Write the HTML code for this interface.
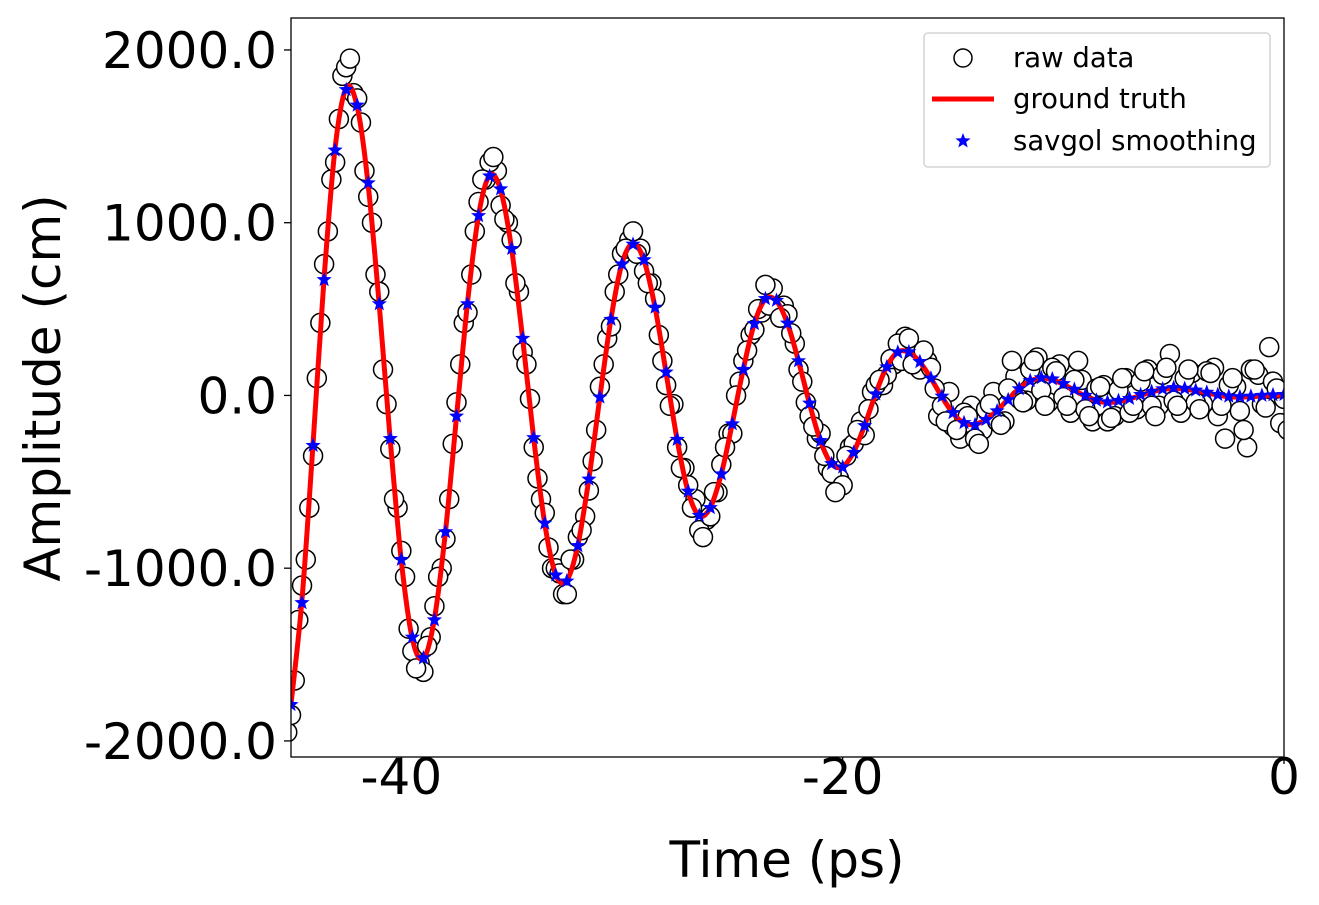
<!DOCTYPE html>
<html><head><meta charset="utf-8"><style>
html,body{margin:0;padding:0;background:#fff;}
svg{display:block;font-family:"DejaVu Sans","Liberation Sans",sans-serif;}
</style></head><body>
<svg id="chart" width="1319" height="905" viewBox="0 0 1319 905">
<defs><clipPath id="clip"><rect x="291" y="18" width="993" height="739"/></clipPath></defs>
<g id="marks" clip-path="url(#clip)"></g>
<rect x="291" y="18" width="993" height="739" fill="none" stroke="#000" stroke-width="1.3"/>
<g id="axes"></g>
<text x="787" y="877" style="font-size:50px" text-anchor="middle">Time (ps)</text>
<text x="0" y="0" style="font-size:50px" text-anchor="middle" transform="translate(60,388) rotate(-90)">Amplitude (cm)</text>
<g>
<rect x="924" y="33" width="346" height="134" rx="4" fill="#fff" fill-opacity="0.8" stroke="#ccc" stroke-width="1.3"/>
<circle cx="963" cy="58" r="9" fill="#fff" stroke="#000" stroke-width="1.5"/>
<text x="1013" y="67" style="font-size:27.5px">raw data</text>
<line x1="932" y1="99" x2="994" y2="99" stroke="red" stroke-width="5"/>
<text x="1013" y="108" style="font-size:27.5px">ground truth</text>
<polygon id="legstar" fill="blue"/>
<text x="1013" y="150" style="font-size:27.5px">savgol smoothing</text>
</g>
</svg>
<script>
const t0 = -45, dt = 0.5;
const truth = [-1787,-1180,-276,681,1433,1780,1671,1217,520,-262,-957,-1410,-1523,-1293,-787,-125,537,1043,1273,1190,846,326,-249,-743,-1039,-1071,-866,-482,-8,443,764,880,780,508,130,-258,-559,-696,-649,-454,-161,155,417,557,547,416,199,-49,-266,-397,-412,-327,-171,11,167,252,250,193,99,-9,-103,-160,-167,-139,-87,-22,40,84,100,91,65,30,-5,-31,-40,-35,-20,0,20,35,40,37,27,15,2,-7,-10,-8,-3,0,2];
const savgol = [-1790,-1200,-290,670,1420,1770,1680,1230,530,-250,-950,-1400,-1520,-1300,-790,-120,530,1040,1270,1195,850,330,-245,-740,-1040,-1075,-870,-485,-10,440,760,875,785,510,135,-255,-555,-695,-650,-455,-165,150,415,560,550,418,200,-45,-262,-395,-415,-330,-175,8,165,250,252,195,100,-5,-100,-158,-170,-140,-90,-25,38,85,102,95,68,35,0,-28,-38,-30,-18,5,22,38,45,40,30,18,5,-5,-8,-5,0,3,5];
const rawMid = [-1850,-1100,-350,760,1350,1900,1720,1150,600,-310,-900,-1480,-1600,-1220,-830,-40,480,1120,1350,1100,900,250,-300,-680,-1000,-1150,-820,-550,50,400,820,950,720,560,60,-300,-520,-780,-700,-400,-220,200,380,640,500,470,150,-120,-220,-450,-520,-280,-230,60,120,300,330,150,160,-60,-180,-100,-250,-80,-150,40,-20,150,30,160,-10,90,-80,40,-150,30,-100,80,-60,120,-30,100,-40,140,-120,60,-90,150,-50,80,-20];
const rawEarly = [-1950,-1300,-650,420,1250,1850,1750,1300,700,-50,-650,-1350,-1550,-1400,-1000,-280,420,950,1250,1300,1000,600,-20,-600,-1000,-1150,-950,-700,-200,330,700,900,850,650,200,-50,-420,-600,-720,-560,-220,80,350,480,620,520,300,-40,-250,-420,-480,-300,-150,20,60,180,340,180,200,-120,20,-250,-60,-200,20,-150,110,-30,220,-40,180,-100,90,-150,60,-120,100,-80,150,-60,240,-100,130,-50,160,-250,50,-300,120,280,-160];
const rawLate = [-1650,-950,100,950,1600,1950,1580,1000,150,-600,-1050,-1580,-1450,-1050,-600,180,700,1250,1380,1020,650,180,-480,-880,-1030,-950,-780,-380,180,600,850,820,650,350,-60,-420,-650,-820,-560,-300,0,260,500,520,450,360,80,-180,-350,-560,-350,-200,-80,90,210,200,180,260,40,-150,-200,-120,-280,-50,-170,200,-40,200,-60,140,-60,200,-120,50,-130,100,-60,140,-120,160,-60,150,-80,130,-60,100,-200,150,-70,40,-200];
const xTicks = [-40, -20, 0];
const yTicks = [-2000, -1000, 0, 1000, 2000];

const X0=291, X1=1284, Y_TOP=18, Y_BOT=757;
const xMin=-45, xMax=0, yMin=-2093, yMax=2185;
function sx(t){return X0+(t-xMin)/(xMax-xMin)*(X1-X0);}
function sy(v){return Y_BOT-(v-yMin)/(yMax-yMin)*(Y_BOT-Y_TOP);}
const NS="http://www.w3.org/2000/svg";
const marks=document.getElementById('marks');
const axes=document.getElementById('axes');
function mk(tag,attrs,parent){const e=document.createElementNS(NS,tag);for(const k in attrs)e.setAttribute(k,attrs[k]);parent.appendChild(e);return e;}
function starPts(cx,cy,R){const r=R*0.42;let p=[];for(let i=0;i<10;i++){const a=-Math.PI/2+i*Math.PI/5;const rr=i%2?r:R;p.push((cx+rr*Math.cos(a)).toFixed(1)+','+(cy+rr*Math.sin(a)).toFixed(1));}return p.join(' ');}

const rawSets=[[rawEarly,-0.17],[rawMid,0],[rawLate,0.17]];
rawSets.forEach(([arr,off])=>{
  arr.forEach((v,i)=>{
    const c=mk('circle',{cx:sx(t0+dt*i+off),cy:sy(v),r:9.5,fill:'#fff',stroke:'#000','stroke-width':1.5},marks);
    
    
  });
});
const pts=truth.map((v,i)=>[sx(t0+dt*i),sy(v)]);
let d='M'+pts[0][0]+','+pts[0][1];
for(let i=0;i<pts.length-1;i++){
  const p0=pts[Math.max(0,i-1)],p1=pts[i],p2=pts[i+1],p3=pts[Math.min(pts.length-1,i+2)];
  const c1=[p1[0]+(p2[0]-p0[0])/6,p1[1]+(p2[1]-p0[1])/6];
  const c2=[p2[0]-(p3[0]-p1[0])/6,p2[1]-(p3[1]-p1[1])/6];
  d+=' C'+c1[0].toFixed(1)+','+c1[1].toFixed(1)+' '+c2[0].toFixed(1)+','+c2[1].toFixed(1)+' '+p2[0].toFixed(1)+','+p2[1].toFixed(1);
}
const line=mk('path',{d:d,fill:'none',stroke:'red','stroke-width':5,'stroke-linejoin':'round'},marks);


savgol.forEach((v,i)=>{
  const s=mk('polygon',{points:starPts(sx(t0+dt*i),sy(v),8),fill:'blue'},marks);
  
  
});
document.getElementById('legstar').setAttribute('points',starPts(963,141,8));
xTicks.forEach(t=>{
  const x=sx(t);
  const l=mk('line',{x1:x,y1:Y_BOT,x2:x,y2:Y_BOT+7,stroke:'#000','stroke-width':1.3},axes);
  
  
  const tx=mk('text',{x:x,y:Y_BOT+37,style:'font-size:50px','text-anchor':'middle'},axes);
  tx.textContent=String(t);
  
  
});
yTicks.forEach(v=>{
  const y=sy(v);
  const l=mk('line',{x1:X0-7,y1:y,x2:X0,y2:y,stroke:'#000','stroke-width':1.3},axes);
  
  
  const tx=mk('text',{x:X0-14,y:y+18,style:'font-size:50px','text-anchor':'end'},axes);
  tx.textContent=v.toFixed(1);
  
  
});
</script>
</body></html>
